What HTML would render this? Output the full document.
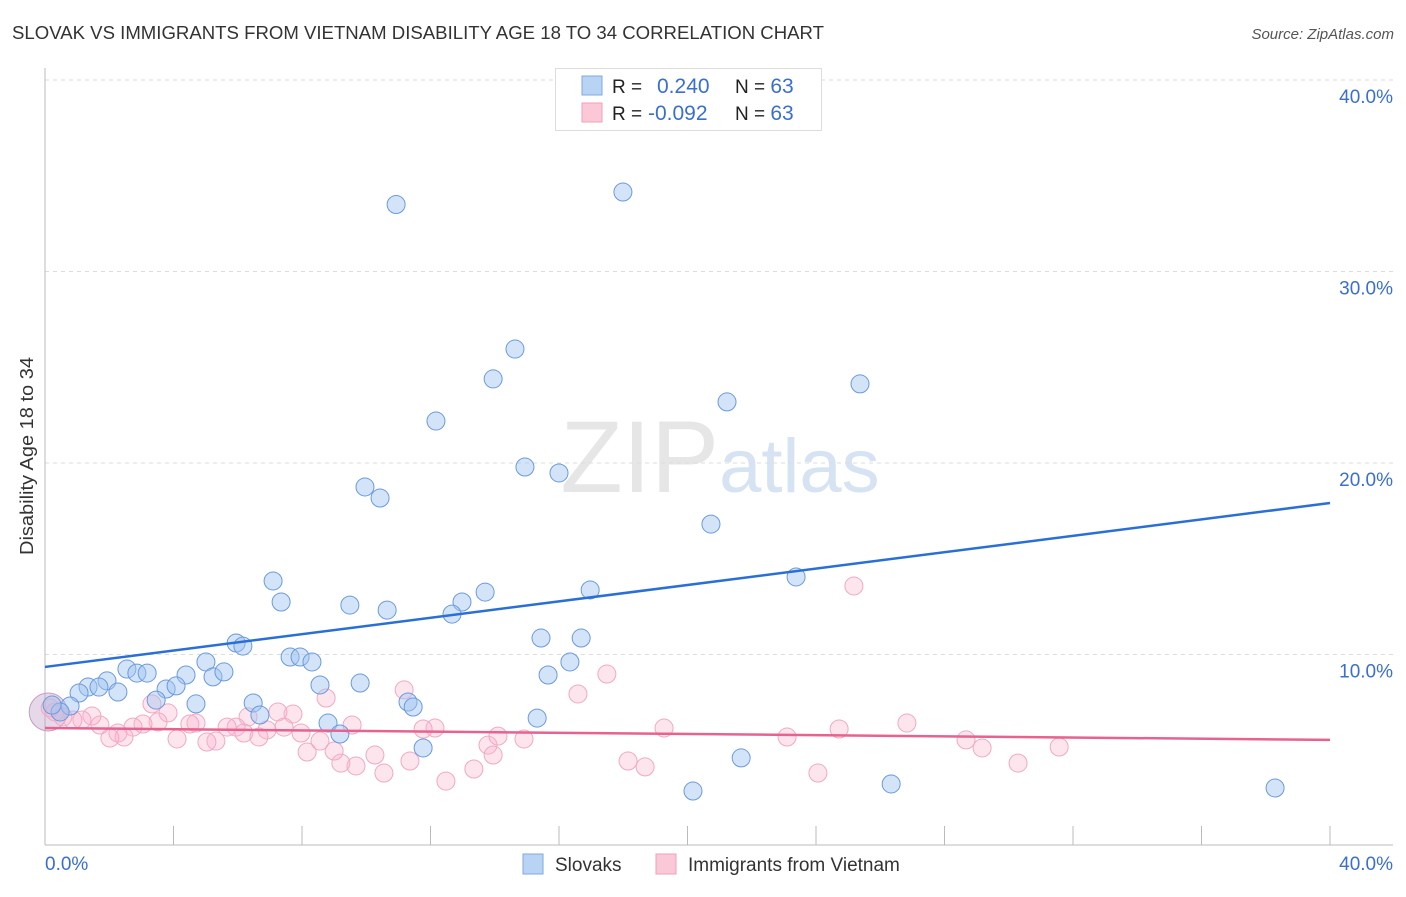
<!DOCTYPE html>
<html><head><meta charset="utf-8"><style>
body{margin:0;background:#fff;font-family:"Liberation Sans",sans-serif;}
svg text{font-family:"Liberation Sans",sans-serif;}
</style></head><body>
<svg id="chart" width="1406" height="892" viewBox="0 0 1406 892" xmlns="http://www.w3.org/2000/svg">
<text x="12" y="39" font-size="18" fill="#333" textLength="812" lengthAdjust="spacingAndGlyphs">SLOVAK VS IMMIGRANTS FROM VIETNAM DISABILITY AGE 18 TO 34 CORRELATION CHART</text>
<text x="1394" y="39" font-size="15" fill="#555" text-anchor="end" font-style="italic">Source: ZipAtlas.com</text>
<text x="720" y="492" font-size="102" fill="#e6e6e6" text-anchor="middle" font-family="Liberation Serif">ZIP<tspan fill="#d6e3f3" font-family="Liberation Sans" font-size="76">atlas</tspan></text>
<text transform="translate(33,456) rotate(-90)" font-size="18" fill="#333" text-anchor="middle" textLength="198" lengthAdjust="spacingAndGlyphs">Disability Age 18 to 34</text>
<g id="grid"></g><g id="pts"></g><g id="trend"></g>
<g>
<rect x="555.5" y="68.5" width="266" height="62" fill="#fff" stroke="#ddd"/>
<rect x="582" y="76" width="20" height="19" fill="#b9d3f5" stroke="#7fa8e0"/>
<rect x="582" y="103" width="20" height="19" fill="#fbc8d8" stroke="#f0a0bb"/>
<text x="612" y="93" font-size="19" fill="#222">R = <tspan x="657" fill="#3a6fd0" font-size="21">0.240</tspan><tspan x="735" fill="#222">N = </tspan><tspan fill="#3a6fd0" font-size="21">63</tspan></text>
<text x="612" y="120" font-size="19" fill="#222">R = <tspan x="648" fill="#3a6fd0" font-size="21">-0.092</tspan><tspan x="735" fill="#222">N = </tspan><tspan fill="#3a6fd0" font-size="21">63</tspan></text>
</g>
<g>
<rect x="523" y="854" width="20" height="20" fill="#b9d3f5" stroke="#7fa8e0"/>
<text x="555" y="871" font-size="19" fill="#333">Slovaks</text>
<rect x="656" y="854" width="20" height="20" fill="#fbc8d8" stroke="#f0a0bb"/>
<text x="688" y="871" font-size="19" fill="#333">Immigrants from Vietnam</text>
</g>
</svg>
<script>
const yTicks=[10,20,30,40];
const yTickLabels=["10.0%","20.0%","30.0%","40.0%"];
const xEndLabels=["0.0%","40.0%"];
const blueX=[10.93,17.99,14.63,13.95,25.37,21.23,12.17,14.94,16.0,9.96,10.43,20.73,7.10,23.38,7.35,16.97,9.49,10.65,13.70,12.98,12.67,15.44,16.69,5.95,6.16,7.63,7.94,8.31,5.01,2.55,2.86,3.18,4.39,5.23,5.57,1.93,1.34,1.68,1.06,2.27,3.77,4.08,9.81,8.56,15.66,16.34,6.48,4.70,3.46,6.69,11.30,11.46,15.32,8.81,9.18,11.77,21.67,20.17,26.34,38.29,0.78,0.47,0.22];
const blueY=[33.5,34.15,25.95,24.39,24.13,23.19,22.19,19.79,19.48,18.75,18.17,16.81,13.84,14.05,12.74,13.37,12.58,12.32,13.26,12.74,12.11,10.86,10.86,10.60,10.44,9.87,9.87,9.61,9.61,9.24,9.03,9.03,8.93,8.83,9.09,8.62,8.30,8.30,7.99,8.04,8.20,8.36,8.51,8.41,8.93,9.61,7.47,7.42,7.62,6.84,7.52,7.26,6.68,6.42,5.85,5.12,4.60,2.87,3.24,3.03,7.31,7.0,7.36];
const pinkX=[25.18,17.49,16.59,11.18,8.75,3.33,26.83,19.27,24.72,23.10,28.67,29.17,31.57,30.29,24.06,18.15,18.68,13.35,12.48,10.55,11.36,9.68,10.27,9.21,9.0,8.16,8.56,7.97,7.72,7.25,7.44,6.91,6.32,5.95,5.67,6.19,6.66,5.32,5.04,4.70,4.51,4.11,3.83,3.52,3.05,2.74,2.27,2.46,2.02,1.71,1.46,1.15,0.87,0.56,0.31,0.16,13.79,13.95,14.10,14.91,12.14,11.77,9.56];
const pinkY=[13.58,8.98,7.94,8.15,7.73,7.42,6.42,6.16,6.11,5.69,5.54,5.12,5.17,4.33,3.81,4.44,4.13,4.02,3.39,3.81,4.44,4.18,4.75,4.33,4.96,4.91,5.48,5.90,6.89,7.0,6.21,6.06,6.74,6.21,6.21,5.90,5.69,5.48,5.43,6.42,6.37,5.59,6.95,6.48,6.37,6.21,5.90,5.69,5.64,6.32,6.79,6.58,6.58,6.74,7.0,7.21,5.27,4.75,5.74,5.59,6.16,6.11,6.32];
const blueTrend=[9.35,17.91];
const pinkTrend=[6.16,5.54];
const NS="http://www.w3.org/2000/svg";
const X0=45,X1=1330,Y0=846,YS=19.15;
function sx(v){return X0+(X1-X0)*v/40;}
function sy(v){return Y0-v*YS;}
function mk(tag,attrs,parent){const e=document.createElementNS(NS,tag);for(const k in attrs)e.setAttribute(k,attrs[k]);parent.appendChild(e);return e;}
const grid=document.getElementById('grid');
yTicks.forEach((t,i)=>{
 const l=mk('line',{x1:45,x2:1393,y1:sy(t),y2:sy(t),stroke:'#ddd','stroke-dasharray':'4,4'},grid);
 
 
 const tx=mk('text',{x:1393,y:sy(t)+23,'font-size':19,fill:'#3a6fd0','text-anchor':'end'},grid);
 tx.textContent=yTickLabels[i];
 
 
});
const ax=mk('line',{x1:45,x2:45,y1:68,y2:845,stroke:'#bbb'},grid);


const bx=mk('line',{x1:45,x2:1393,y1:845,y2:845,stroke:'#bbb'},grid);


for(let i=0;i<=10;i++){
 const t=mk('line',{x1:sx(i*4),x2:sx(i*4),y1:826,y2:845,stroke:'#bbb'},grid);
 
 
}
[[0,'start',45],[40,'end',1393]].forEach((d,i)=>{
 const tx=mk('text',{x:d[2],y:870,'font-size':19,fill:'#3a6fd0','text-anchor':d[1]},grid);
 tx.textContent=xEndLabels[i];
 
 
});
const pts=document.getElementById('pts');
const big=mk('circle',{cx:sx(0.1),cy:sy(7.0),r:19,fill:'rgba(190,160,200,0.4)',stroke:'#c99cc4'},pts);


pinkX.forEach((v,i)=>{
 const c=mk('circle',{cx:sx(v),cy:sy(pinkY[i]),r:9,fill:'rgba(248,180,205,0.35)',stroke:'#f2a8c3','stroke-width':1},pts);
 
 
});
blueX.forEach((v,i)=>{
 const c=mk('circle',{cx:sx(v),cy:sy(blueY[i]),r:9,fill:'rgba(160,196,240,0.45)',stroke:'#6a9ade','stroke-width':1},pts);
 
 
});
const tr=document.getElementById('trend');
const b=mk('line',{x1:sx(0),y1:sy(blueTrend[0]),x2:sx(40),y2:sy(blueTrend[1]),stroke:'#2a6fd6','stroke-width':2.5},tr);


const p=mk('line',{x1:sx(0),y1:sy(pinkTrend[0]),x2:sx(40),y2:sy(pinkTrend[1]),stroke:'#e8628f','stroke-width':2.5},tr);


</script>
</body></html>
